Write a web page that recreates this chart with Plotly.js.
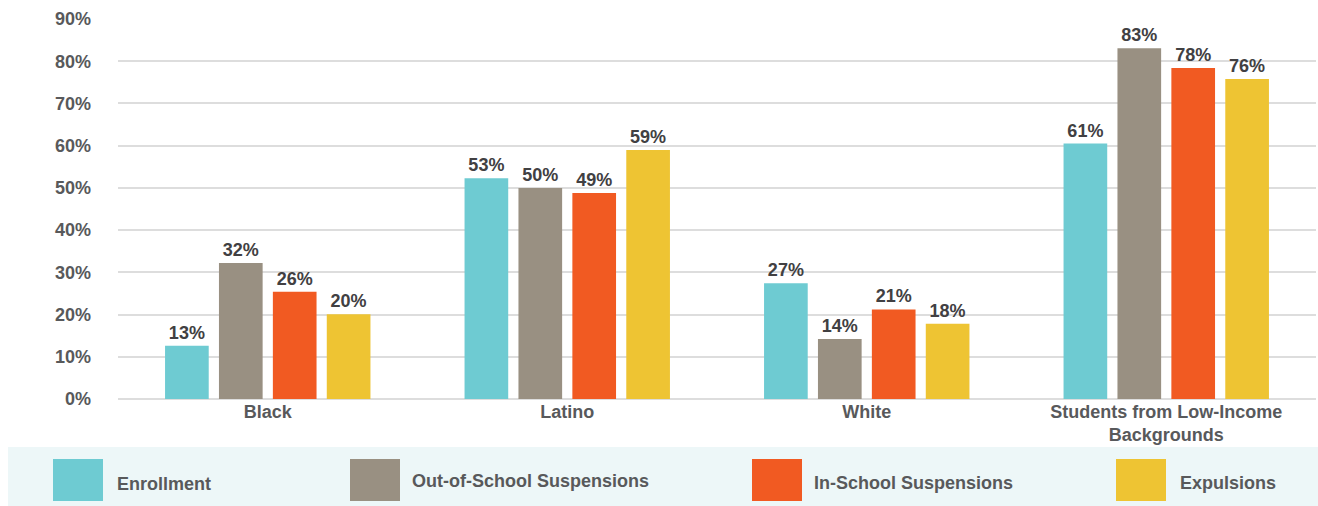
<!DOCTYPE html>
<html>
<head>
<meta charset="utf-8">
<script src="https://cdn.plot.ly/plotly-3.0.1.min.js"></script>
<style>
  html, body { margin: 0; padding: 0; background: #ffffff; }
  #chart { width: 1318px; height: 506px; }
</style>
</head>
<body>
<div id="chart"></div>
<script>
// ---- Data ----
var categories = ['Black', 'Latino', 'White', 'Students from Low-Income<br>Backgrounds'];
var seriesNames = ['Enrollment', 'Out-of-School Suspensions', 'In-School Suspensions', 'Expulsions'];

var enrollment      = [12.6, 52.3, 27.4, 60.5];
var outOfSchool     = [32.2, 50.0, 14.2, 83.1];
var inSchool        = [25.4, 48.8, 21.2, 78.4];
var expulsions      = [20.1, 59.0, 17.8, 75.8];

var enrollmentLbl   = ['13%', '53%', '27%', '61%'];
var outOfSchoolLbl  = ['32%', '50%', '14%', '83%'];
var inSchoolLbl     = ['26%', '49%', '21%', '78%'];
var expulsionsLbl   = ['20%', '59%', '18%', '76%'];

var yTickVals = [0, 10, 20, 30, 40, 50, 60, 70, 80, 90];
var yTickText = ['0%', '10%', '20%', '30%', '40%', '50%', '60%', '70%', '80%', '90%'];

// ---- Styling ----
var colors = ['#6ecbd2', '#999082', '#f15a22', '#eec433'];
var FONT = '"Liberation Sans", Arial, "DejaVu Sans", sans-serif';

var values = [enrollment, outOfSchool, inSchool, expulsions];
var labels = [enrollmentLbl, outOfSchoolLbl, inSchoolLbl, expulsionsLbl];

var traces = seriesNames.map(function (name, i) {
  return {
    type: 'bar',
    name: name,
    x: categories,
    y: values[i],
    text: labels[i],
    textposition: 'outside',
    cliponaxis: false,
    constraintext: 'none',
    textfont: { family: FONT, size: 18, color: '#414042', weight: 700 },
    marker: { color: colors[i], line: { width: 0 } },
    hoverinfo: 'x+y+name',
    showlegend: false
  };
});

// Page geometry (pixels)
var W = 1318, H = 506;
var M = { l: 118, r: 2, t: 19, b: 107 };
var plotW = W - M.l - M.r, plotH = H - M.t - M.b;
function px(xp) { return (xp - M.l) / plotW; }
function py(yp) { return (H - M.b - yp) / plotH; }

var shapes = [{
  type: 'rect', xref: 'paper', yref: 'paper', layer: 'below',
  x0: px(8), x1: px(1318), y0: py(506), y1: py(447),
  fillcolor: '#edf7f8', line: { width: 0 }
}];
var annotations = [];
var swatchX = [53, 350, 752, 1116];
var textX = [115, 410, 812, 1178];
var textY = [484, 481, 483, 483];
seriesNames.forEach(function (name, i) {
  shapes.push({
    type: 'rect', xref: 'paper', yref: 'paper',
    x0: px(swatchX[i]), x1: px(swatchX[i] + 50), y0: py(501), y1: py(459),
    fillcolor: colors[i], line: { width: 0 }
  });
  annotations.push({
    xref: 'paper', yref: 'paper', x: px(textX[i]), y: py(textY[i]),
    xanchor: 'left', yanchor: 'middle', showarrow: false,
    text: name,
    font: { family: FONT, size: 18, color: '#58595b', weight: 700 }
  });
});

var layout = {
  width: W, height: H,
  margin: M,
  paper_bgcolor: '#ffffff',
  plot_bgcolor: '#ffffff',
  barmode: 'group',
  bargap: 0.28,
  bargroupgap: 0.19,
  font: { family: FONT, size: 18, color: '#58595b' },
  xaxis: {
    type: 'category',
    showgrid: false, showline: false, zeroline: false, ticks: '',
    tickfont: { family: FONT, size: 18, color: '#58595b', weight: 700 },
    fixedrange: true
  },
  yaxis: {
    range: [0, 90],
    tickmode: 'array',
    tickvals: yTickVals,
    ticktext: yTickText,
    showgrid: true, gridcolor: '#dddddd', gridwidth: 2,
    zeroline: true, zerolinecolor: '#dddddd', zerolinewidth: 2,
    showline: false, ticks: '',
    ticklabelstandoff: 26,
    tickfont: { family: FONT, size: 18, color: '#58595b', weight: 700 },
    fixedrange: true
  },
  shapes: shapes,
  annotations: annotations,
  showlegend: false
};

Plotly.newPlot('chart', traces, layout, { displayModeBar: false, staticPlot: true });
</script>
</body>
</html>
